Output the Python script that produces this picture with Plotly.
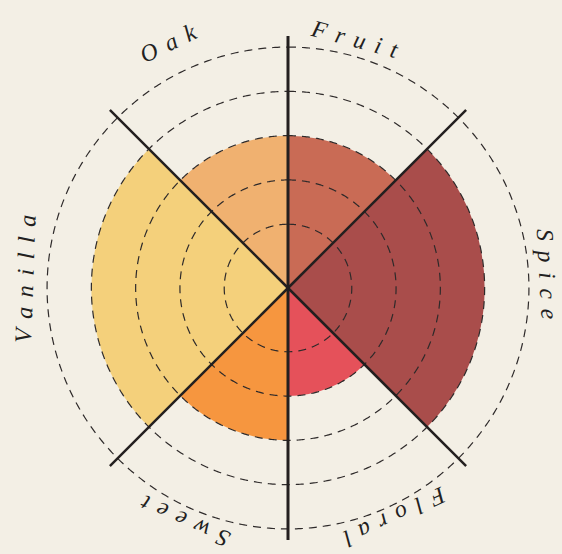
import numpy as np
import plotly.graph_objects as go

# ---- data ----
categories = ["Fruit", "Spice", "Floral", "Sweet", "Vanilla", "Oak"]
scores = [3, 4, 2, 3, 4, 3]
sector_widths = [45, 90, 45, 45, 90, 45]          # degrees
colors = ["#c96b55", "#a94d4b", "#e5515a", "#f6963f", "#f4d07b", "#f0b170"]
ring_levels = [1, 2, 3, 4, 5]

# label placement (angle clockwise from top, radius in px)
label_angles = [15, 87, 155, 204, -88, -26]
label_radii = [258, 259, 252, 255, 263, 273]

BG = "#f3efe5"
INK = "#231f1f"
R_MIN, R_MAX = -0.44, 5.25

# sector geometry
starts = np.concatenate([[0], np.cumsum(sector_widths)[:-1]])
centers = starts + np.array(sector_widths) / 2
boundaries = sorted(set(list(starts % 360)))

fig = go.Figure()
fig.add_trace(go.Barpolar(
    theta=centers, r=[s - R_MIN for s in scores], base=R_MIN,
    width=sector_widths, marker=dict(color=colors, line=dict(width=0)),
    text=categories, hoverinfo="text", showlegend=False,
))

# dashed rings
th = np.linspace(0, 360, 721)
for lv in ring_levels:
    fig.add_trace(go.Scatterpolar(
        theta=th, r=[lv] * len(th), mode="lines",
        line=dict(color="#2e2a2a", width=1.2, dash="8px,6px"),
        hoverinfo="skip", showlegend=False))

# radial boundary lines
for b in boundaries:
    w = 3 if b % 180 == 0 else 2.5
    fig.add_trace(go.Scatterpolar(
        theta=[b, b], r=[R_MIN, R_MAX], mode="lines",
        line=dict(color=INK, width=w), hoverinfo="skip", showlegend=False))

L, R, T, B = 36, 22, 36, 14
W, H = 562, 554
pw, ph = W - L - R, H - T - B
cx, cy = 288, 288
annotations = []
spacer = "\u2009\u2009"
for name, ang, rad in zip(categories, label_angles, label_radii):
    a = np.deg2rad(ang)
    px = cx + rad * np.sin(a)
    py = cy - rad * np.cos(a)
    ta = ((ang + 180) % 360) - 180
    annotations.append(dict(
        x=(px - L) / pw, y=(H - B - py) / ph, xref="paper", yref="paper",
        text=spacer.join(name), showarrow=False, textangle=ta,
        xanchor="center", yanchor="middle",
        font=dict(family="Liberation Serif", size=24, color=INK, style="italic"),
    ))

fig.update_layout(
    width=W, height=H,
    margin=dict(l=L, r=R, t=T, b=B),
    paper_bgcolor=BG, plot_bgcolor=BG,
    polar=dict(
        bgcolor="rgba(0,0,0,0)",
        domain=dict(x=[0, 1], y=[0, 1]),
        radialaxis=dict(range=[R_MIN, R_MAX], visible=False, showgrid=False),
        angularaxis=dict(rotation=90, direction="clockwise", visible=False,
                         showgrid=False, showline=False),
        bargap=0,
    ),
    annotations=annotations,
)

fig.write_html(
    "out.html",
    config={"displayModeBar": False},
    post_script="document.body.style.margin='0';"
                "document.body.style.background='%s';"
                "document.body.style.overflow='hidden';" % BG,
)
